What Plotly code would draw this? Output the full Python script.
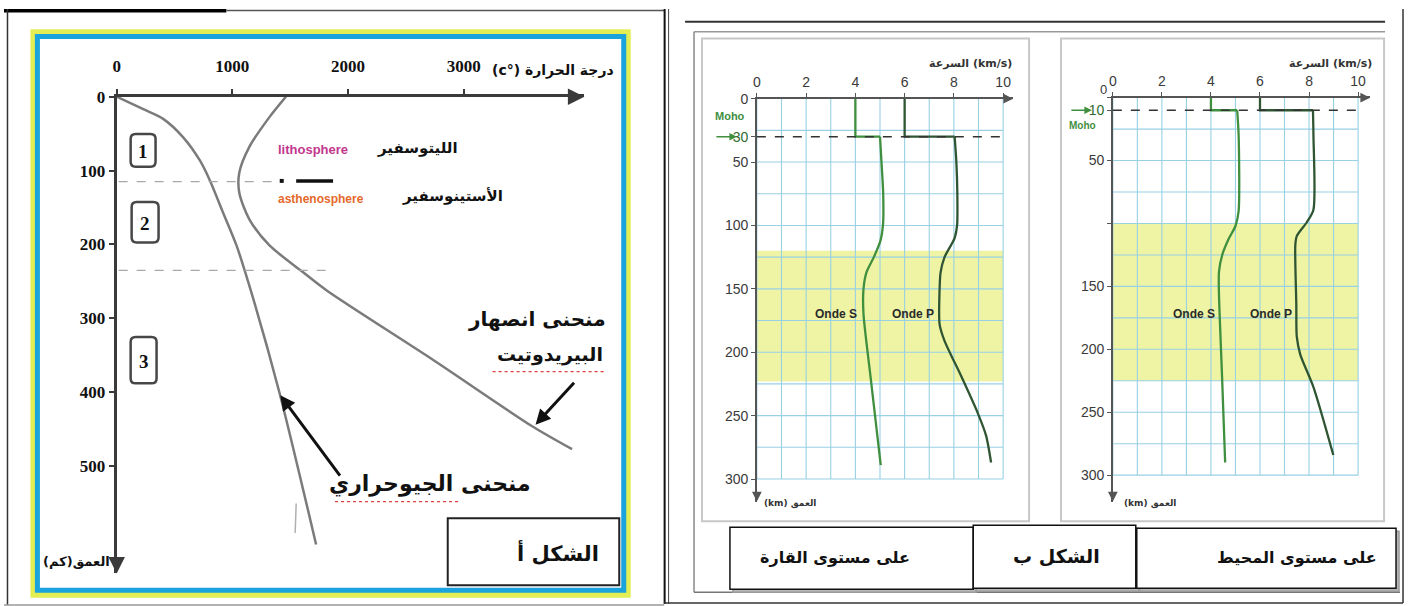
import plotly.graph_objects as go

W, H = 1408, 606

# ---------- Figure A : geotherm and peridotite solidus ----------
temp_ticks = [0, 1000, 2000, 3000]
depth_ticks_a = [0, 100, 200, 300, 400, 500]

geotherm_temp = [0, 230, 402, 575, 718, 805, 920, 1035, 1178, 1408, 1724]
geotherm_depth = [0, 17, 30, 55, 86, 113, 157, 201, 272, 401, 606]

solidus_temp = [1463, 1319, 1147, 1060, 1060, 1147, 1319, 1606, 1822, 2724, 3592, 3937]
solidus_depth = [0, 28, 68, 103, 130, 166, 201, 237, 263, 355, 446, 477]

layer_bounds = [115, 235]          # lithosphere / asthenosphere / deeper mantle

# ---------- Figure B : seismic velocities ----------
vel_ticks = [0, 2, 4, 6, 8, 10]
cont_depth_ticks = [0, 30, 50, 100, 150, 200, 250, 300]
ocean_depth_ticks = [0, 10, 50, 100, 150, 200, 250, 300]

# continent (Moho at 30 km)
cont_moho = 30
cont_lvz = [120, 223]
cont_s_crust_v = [4.0, 4.0, 5.0]
cont_s_crust_d = [0, 30, 30]
cont_s_mantle_v = [5.0, 5.06, 5.13, 5.12, 5.02, 4.75, 4.45, 4.33, 4.33, 4.62, 5.03]
cont_s_mantle_d = [30, 50, 75, 100, 112, 125, 137, 150, 170, 220, 289]
cont_p_crust_v = [6.0, 6.0, 8.03]
cont_p_crust_d = [0, 30, 30]
cont_p_mantle_v = [8.03, 8.1, 8.14, 8.13, 8.03, 7.62, 7.46, 7.42, 7.42, 7.62, 8.30, 8.97, 9.31, 9.51]
cont_p_mantle_d = [30, 50, 75, 100, 110, 125, 137, 150, 178, 191, 219, 248, 266, 287]

# ocean (Moho at 10 km)
ocean_moho = 10
ocean_lvz = [100, 225]
ocean_s_crust_v = [4.0, 4.0, 5.07]
ocean_s_crust_d = [0, 10, 10]
ocean_s_mantle_v = [5.07, 5.13, 5.13, 5.0, 4.73, 4.46, 4.33, 4.32, 4.35, 4.45, 4.58]
ocean_s_mantle_d = [10, 30, 90, 102, 112, 125, 138, 150, 170, 220, 290]
ocean_p_crust_v = [6.0, 6.0, 8.16]
ocean_p_crust_d = [0, 10, 10]
ocean_p_mantle_v = [8.16, 8.18, 8.18, 7.91, 7.5, 7.44, 7.48, 7.5, 7.64, 8.18, 8.99]
ocean_p_mantle_d = [10, 30, 89, 99, 110, 117, 164, 190, 204, 230, 284]


def px(x):
    return x / W


def py(y):
    return 1 - y / H


ARABIC = "DejaVu Sans"
SERIF = "Liberation Serif"
NARROW = "Liberation Sans Narrow, Liberation Sans, Arial"

fig = go.Figure()

# ---- curves of figure A ----
for t, d in [(geotherm_temp, geotherm_depth), (solidus_temp, solidus_depth)]:
    fig.add_trace(go.Scatter(x=t, y=d, xaxis="x", yaxis="y", mode="lines",
                             line=dict(color="#7b7b7b", width=2.5, shape="spline", smoothing=0.8),
                             hoverinfo="skip"))

# ---- curves of figure B ----
S_COL = "#3f8f3f"
P_COL = "#2f5533"
panels = [
    ("x2", "y2", cont_s_crust_v, cont_s_crust_d, cont_s_mantle_v, cont_s_mantle_d,
     cont_p_crust_v, cont_p_crust_d, cont_p_mantle_v, cont_p_mantle_d),
    ("x3", "y3", ocean_s_crust_v, ocean_s_crust_d, ocean_s_mantle_v, ocean_s_mantle_d,
     ocean_p_crust_v, ocean_p_crust_d, ocean_p_mantle_v, ocean_p_mantle_d),
]
for xa, ya, scv, scd, smv, smd, pcv, pcd, pmv, pmd in panels:
    for v, d, col, shp in [(scv, scd, S_COL, "linear"), (smv, smd, S_COL, "spline"),
                           (pcv, pcd, P_COL, "linear"), (pmv, pmd, P_COL, "spline")]:
        fig.add_trace(go.Scatter(x=v, y=d, xaxis=xa, yaxis=ya, mode="lines",
                                 line=dict(color=col, width=2.3, shape=shp, smoothing=0.7),
                                 hoverinfo="skip"))

shapes = []
annotations = []


def seg(x0, y0, x1, y1, color, width, dash=None, layer="above"):
    shapes.append(dict(type="line", xref="paper", yref="paper", x0=px(x0), y0=py(y0),
                       x1=px(x1), y1=py(y1), layer=layer,
                       line=dict(color=color, width=width, dash=dash)))


def rect(x0, y0, x1, y1, color, width, fill="rgba(0,0,0,0)", layer="above"):
    shapes.append(dict(type="rect", xref="paper", yref="paper", x0=px(x0), y0=py(y1),
                       x1=px(x1), y1=py(y0), layer=layer, fillcolor=fill,
                       line=dict(color=color, width=width)))


def rounded(x0, y0, x1, y1, r, color, width):
    pts = [("M", x0 + r, y0), ("L", x1 - r, y0), ("Q", x1, y0, x1, y0 + r), ("L", x1, y1 - r),
           ("Q", x1, y1, x1 - r, y1), ("L", x0 + r, y1), ("Q", x0, y1, x0, y1 - r),
           ("L", x0, y0 + r), ("Q", x0, y0, x0 + r, y0)]
    path = ""
    for p in pts:
        coords = p[1:]
        parts = [f"{px(coords[i]):.5f},{py(coords[i + 1]):.5f}" for i in range(0, len(coords), 2)]
        path += p[0] + " " + " ".join(parts) + " "
    shapes.append(dict(type="path", xref="paper", yref="paper", path=path + "Z",
                       line=dict(color=color, width=width)))


def label(x, y, text, size, color="#111", family=ARABIC, xanchor="center", bold=False):
    if bold:
        text = f"<b>{text}</b>"
    annotations.append(dict(x=px(x), y=py(y), xref="paper", yref="paper", text=text,
                            showarrow=False, xanchor=xanchor, yanchor="middle",
                            font=dict(family=family, size=size, color=color)))


def data_arrow(x, y, ax, ay, xref, yref, color, width, size=1.0):
    annotations.append(dict(x=x, y=y, ax=ax, ay=ay, xref=xref, yref=yref, axref=xref, ayref=yref,
                            text="", showarrow=True, arrowhead=2, arrowsize=size,
                            arrowwidth=width, arrowcolor=color, standoff=0))


# ================= page frames =================
rect(0, 0, 223, 3.5, "#000", 0, fill="#000")
seg(223, 1.5, 662, 1.5, "#555", 1.5)
seg(3.5, 0, 3.5, 605, "#333", 1.5)
seg(0, 605, 662, 605, "#999", 1.5)
seg(662.5, 0, 662.5, 604, "#111", 2)
seg(666.5, 0, 666.5, 604, "#444", 1)
seg(683, 13, 1385, 13, "#333", 2)
seg(692, 23, 1385, 23, "#999", 1.5)
seg(692, 23, 692, 592, "#888", 1.5)
seg(692, 592, 1400, 592, "#777", 1.5)
seg(1403, 0, 1403, 603, "#333", 1.5)
seg(662, 603, 1403, 603, "#333", 1.5)

# ================= figure A decorations =================
rect(30, 24, 625, 594, "#e3ee55", 7, layer="below")
rect(33.5, 28, 621.5, 590, "#1aa3dc", 5, layer="below")

x_max_a = (582 - 113) / 0.116
y_max_a = (573 - 89) / 0.75

# layer boundaries (dashed)
bound_ends = [1379, 1828]
for d, t_end in zip(layer_bounds, bound_ends):
    shapes.append(dict(type="line", xref="x", yref="y", x0=17, x1=t_end, y0=d, y1=d,
                       line=dict(color="#a8a8a8", width=1.3, dash="dash")))

# key mark between the two layer names
shapes.append(dict(type="rect", xref="paper", yref="paper", x0=px(276.5), x1=px(280.5),
                   y0=py(176.5), y1=py(172.5), fillcolor="#111", line=dict(width=0)))
seg(293, 174.5, 330, 174.5, "#111", 3.5)

label(273, 143, "lithosphere", 13, color="#c2378d", family="Liberation Sans", xanchor="left", bold=True)
label(372, 141, "الليتوسفير", 15, xanchor="left", bold=True)
label(273, 193, "asthenosphere", 12, color="#e4692b", family="Liberation Sans", xanchor="left", bold=True)
label(397, 190, "الأستينوسفير", 15, xanchor="left", bold=True)

label(614, 62, "\u202bدرجة الحرارة (°c)\u202c", 14, xanchor="right", bold=True)
label(108, 561, "العمق(كم)", 13, xanchor="right", bold=True)

for (bx0, by0, bx1, by1), num in zip([(127, 127, 152, 160), (128, 196, 155, 237), (127, 333, 153, 380)],
                                     ["1", "2", "3"]):
    rounded(bx0, by0, bx1, by1, 5, "#474747", 2.5)
    label((bx0 + bx1) / 2, (by0 + by1) / 2 + 1, num, 19, family=SERIF, bold=True)

# pointer arrows
data_arrow(1414, 404, 1940, 515, "x", "y", "#111", 3, 1.0)
data_arrow(3621, 444, 3966, 385, "x", "y", "#111", 3, 1.0)

label(606, 315, "منحنى انصهار", 20, xanchor="right", bold=True)
label(603, 351, "البيريدوتيت", 19, xanchor="right", bold=True)
label(531, 482, "منحنى الجيوحراري", 22, xanchor="right", bold=True)
seg(490, 368, 603, 368, "#e04040", 1.3, dash="dot")
seg(332, 500, 457, 500, "#e04040", 1.3, dash="dot")
seg(293, 502, 292, 532, "#b0b0b0", 1.5)

rect(445, 517, 617, 585, "#222", 2, fill="#ffffff")
label(556, 552, "الشكل أ", 21, xanchor="center", bold=True)

# axis arrowheads
annotations.append(dict(x=x_max_a, y=0, xref="x", yref="y", ax=-16, ay=0, text="", showarrow=True,
                        arrowhead=2, arrowsize=1.1, arrowwidth=3, arrowcolor="#3a3a3a", standoff=0))
annotations.append(dict(x=0, y=y_max_a, xref="x", yref="y", ax=0, ay=-16, text="", showarrow=True,
                        arrowhead=2, arrowsize=1.1, arrowwidth=3, arrowcolor="#3a3a3a", standoff=0))

# ================= figure B decorations =================
rect(700, 30, 1028, 520, "#c8c8c8", 2, layer="below")
rect(1060, 30, 1384, 520, "#c8c8c8", 2, layer="below")

GRID = "#98d0e4"
for xa, ya, band, moho in [("x2", "y2", cont_lvz, cont_moho), ("x3", "y3", ocean_lvz, ocean_moho)]:
    shapes.append(dict(type="rect", xref=xa, yref=ya, x0=0, x1=10, y0=band[0], y1=band[1],
                       fillcolor="#eef4a4", line=dict(width=0), layer="below"))
    for v in range(0, 11):
        shapes.append(dict(type="line", xref=xa, yref=ya, x0=v, x1=v, y0=0, y1=300,
                           line=dict(color=GRID, width=1.1), layer="below"))
    for d in range(25, 301, 25):
        shapes.append(dict(type="line", xref=xa, yref=ya, x0=0, x1=10, y0=d, y1=d,
                           line=dict(color=GRID, width=1.1), layer="below"))
    shapes.append(dict(type="line", xref=xa, yref=ya, x0=0, x1=10, y0=moho, y1=moho,
                       line=dict(color="#333", width=1.6, dash="dash")))

# Moho markers
annotations.append(dict(x=px(735), y=cont_moho, xref="paper", yref="y2", ax=-22, ay=0, text="",
                        showarrow=True, arrowhead=2, arrowsize=1, arrowwidth=1.5,
                        arrowcolor="#3f8f3f", standoff=0))
label(728, 109, "Moho", 11, color="#3f8f3f", family=NARROW, bold=True)
annotations.append(dict(x=px(1091), y=ocean_moho, xref="paper", yref="y3", ax=-22, ay=0, text="",
                        showarrow=True, arrowhead=2, arrowsize=1, arrowwidth=1.5,
                        arrowcolor="#3f8f3f", standoff=0))
label(1082, 118, "Moho", 10, color="#3f8f3f", family=NARROW, bold=True)
# origin depth label of the ocean profile, lifted clear of the Moho label
label(1103, 82, "0", 13, color="#3a3a3a", family=NARROW)

# wave labels
for xa, ya, vs, vp, d in [("x2", "y2", 3.22, 6.34, 170), ("x3", "y3", 3.31, 6.44, 172)]:
    for v, t in [(vs, "Onde S"), (vp, "Onde P")]:
        annotations.append(dict(x=v, y=d, xref=xa, yref=ya, text=f"<b>{t}</b>", showarrow=False,
                                font=dict(family=NARROW, size=12, color="#2a2a2a")))

# axis titles
label(969, 55, "السرعة (km/s)", 11, color="#333", bold=True)
label(1330, 55, "السرعة (km/s)", 11, color="#333", bold=True)
label(760, 502, "(km) العمق", 9, color="#333", xanchor="left", bold=True)
label(1121, 502, "(km) العمق", 9, color="#333", xanchor="left", bold=True)

# axis arrowheads
for xa, ya, xmax, ymax in [("x2", "y2", 10.405, 317.8), ("x3", "y3", 10.49, 321.0)]:
    annotations.append(dict(x=xmax, y=0, xref=xa, yref=ya, ax=-10, ay=0, text="", showarrow=True,
                            arrowhead=2, arrowsize=1.3, arrowwidth=1.5, arrowcolor="#555", standoff=0))
    annotations.append(dict(x=0, y=ymax, xref=xa, yref=ya, ax=0, ay=-10, text="", showarrow=True,
                            arrowhead=2, arrowsize=1.3, arrowwidth=1.5, arrowcolor="#555", standoff=0))

# caption boxes
for (bx0, by0, bx1, by1) in [(728, 526, 972, 589), (972, 524, 1135, 588), (1136, 527, 1396, 588)]:
    rect(bx0 + 3, by0 + 3, bx1 + 3, by1 + 3, "#9a9a9a", 1.5, fill="#b8b8b8")
    rect(bx0, by0, bx1, by1, "#111", 1.5, fill="#ffffff")
label(833, 557, "على مستوى القارة", 16, family=ARABIC, bold=True)
label(1055, 555, "الشكل ب", 19, bold=True)
label(1297, 557, "على مستوى المحيط", 16, family=ARABIC, bold=True)

# ================= axes =================
axis_a = dict(showline=True, linecolor="#3a3a3a", linewidth=3, ticks="outside", ticklen=5,
              tickwidth=2, tickcolor="#3a3a3a", showgrid=False, zeroline=False,
              tickfont=dict(family=SERIF, size=17, color="#111", weight="bold"))
axis_b = dict(showline=True, linecolor="#555", linewidth=1.5, ticks="outside", ticklen=4,
              tickwidth=1.2, tickcolor="#555", showgrid=False, zeroline=False,
              tickfont=dict(family=NARROW, size=14, color="#3a3a3a"))

cont_ticktext = [f'<span style="color:#2f6a2f">{t}</span>' if t == cont_moho else str(t)
                 for t in cont_depth_ticks]
ocean_ticktext = [f'<span style="color:#2f6a2f">{t}</span>' if t == ocean_moho else
                  ("" if t in (0, 100) else str(t)) for t in ocean_depth_ticks]

fig.update_layout(
    width=W, height=H, margin=dict(l=0, r=0, t=0, b=0),
    paper_bgcolor="#ffffff", plot_bgcolor="rgba(0,0,0,0)", showlegend=False,
    xaxis=dict(axis_a, domain=[px(113), px(582)], range=[0, x_max_a], side="top", anchor="y",
               tickvals=temp_ticks, ticklabelstandoff=10),
    yaxis=dict(axis_a, domain=[py(573), py(89)], range=[y_max_a, 0], anchor="x",
               tickvals=depth_ticks_a),
    xaxis2=dict(axis_b, domain=[px(755), px(1012)], range=[0, 10.405], side="top", anchor="y2",
                tickvals=vel_ticks),
    yaxis2=dict(axis_b, domain=[py(500), py(91)], range=[317.8, 0], anchor="x2",
                tickvals=cont_depth_ticks, ticktext=cont_ticktext),
    xaxis3=dict(axis_b, domain=[px(1112), px(1370)], range=[0, 10.49], side="top", anchor="y3",
                tickvals=vel_ticks),
    yaxis3=dict(axis_b, domain=[py(500), py(90)], range=[321.0, 0], anchor="x3",
                tickvals=ocean_depth_ticks, ticktext=ocean_ticktext),
    shapes=shapes,
    annotations=annotations,
)

fig.write_html("out.html")
